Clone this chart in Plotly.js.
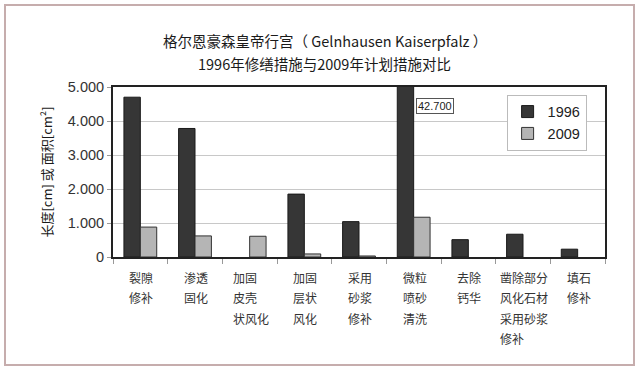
<!DOCTYPE html>
<html>
<head>
<meta charset="utf-8">
<script src="https://cdn.plot.ly/plotly-3.0.1.min.js"></script>
<style>
  html, body { margin: 0; padding: 0; background: #fff; }
  #wrap { position: relative; width: 639px; height: 371px; }
  #chart { width: 639px; height: 371px; }
  #frame { position: absolute; left: 4px; top: 4px; width: 627px; height: 358px;
           border: 2px solid #c6adad; pointer-events: none; }
</style>
</head>
<body>
<div id="wrap">
  <div id="chart"></div>
  <div id="frame"></div>
</div>
<script>
// ---- data ----
const categories = ['裂隙修补', '渗透固化', '加固皮壳状风化', '加固层状风化', '采用砂浆修补',
                    '微粒喷砂清洗', '去除钙华', '凿除部分风化石材采用砂浆修补', '填石修补'];
const tickLabels = [
  ['裂隙', '修补'],
  ['渗透', '固化'],
  ['加固', '皮壳', '状风化'],
  ['加固', '层状', '风化'],
  ['采用', '砂浆', '修补'],
  ['微粒', '喷砂', '清洗'],
  ['去除', '钙华'],
  ['凿除部分', '风化石材', '采用砂浆', '修补'],
  ['填石', '修补']
];
const values1996 = [4700, 3780, 0, 1850, 1040, 42700, 510, 670, 230];
const values2009 = [880, 620, 610, 90, 30, 1170, 0, 0, 0];
const seriesNames = ['1996', '2009'];
const titleLines = ['格尔恩豪森皇帝行宫（ Gelnhausen Kaiserpfalz ）', '1996年修缮措施与2009年计划措施对比'];
const yTitle = '长度[cm] 或 面积[cm²]';
const yMax = 5000;

// ---- chart ----
const cjk = '"Noto Sans CJK SC", "Noto Sans", sans-serif';
const sans = '"Liberation Sans", Arial, sans-serif';
const outlineWidths = vals => vals.map(v => (v > 0 ? 1 : 0));

const traces = [
  { type: 'bar', name: seriesNames[0], x: categories, y: values1996,
    marker: { color: '#363636', line: { color: '#1a1a1a', width: outlineWidths(values1996) } } },
  { type: 'bar', name: seriesNames[1], x: categories, y: values2009,
    marker: { color: '#b5b5b5', line: { color: '#333333', width: outlineWidths(values2009) } } }
];

const annotations = [];
titleLines.forEach((t, i) => {
  annotations.push({ xref: 'paper', yref: 'paper', x: 0.43, y: 1, yanchor: 'middle',
    yshift: 87 - 40 - i * 23, text: t, showarrow: false,
    font: { family: cjk, size: 14.5, color: '#1a1a1a' } });
});
tickLabels.forEach((lines, ci) => {
  const maxLen = Math.max(...lines.map(l => l.length));
  lines.forEach((ln, li) => {
    annotations.push({ xref: 'x', yref: 'paper', x: categories[ci], y: 0,
      xanchor: 'left', xshift: -maxLen * 12 / 2 - 1, yanchor: 'middle',
      yshift: -20 - li * 20.6, text: ln, showarrow: false,
      font: { family: cjk, size: 12, color: '#333' } });
  });
});
// clipped bar value label
const bigIdx = values1996.findIndex(v => v > yMax);
annotations.push({ xref: 'x', yref: 'y', x: categories[bigIdx], y: 4450,
  xanchor: 'left', yanchor: 'middle', xshift: 2,
  text: values1996[bigIdx].toLocaleString('de-DE'), showarrow: false,
  bordercolor: '#555', borderwidth: 1, borderpad: 1, bgcolor: '#fff',
  font: { family: sans, size: 11, color: '#222' } });

const layout = {
  width: 639, height: 371,
  margin: { l: 113, r: 34, t: 87, b: 114 },
  paper_bgcolor: '#ffffff', plot_bgcolor: '#ffffff',
  separators: ',.',
  barmode: 'group', bargap: 0.4, bargroupgap: 0,
  showlegend: true,
  legend: { x: 0.80, y: 0.955, xanchor: 'left', yanchor: 'top',
    bgcolor: '#fff', bordercolor: '#bbbbbb', borderwidth: 1,
    font: { family: sans, size: 14.5, color: '#222' },
    itemwidth: 30, tracegroupgap: 0 },
  xaxis: { type: 'category', showticklabels: false, ticks: 'outside', tickson: 'boundaries',
    ticklen: 5, tickcolor: '#999', showgrid: false, showline: true, linecolor: '#222',
    linewidth: 2, mirror: true, zeroline: false, fixedrange: true },
  yaxis: { range: [0, yMax], dtick: 1000, tickformat: ',.0f', ticks: 'outside', ticklen: 4,
    tickcolor: '#999', showgrid: true, gridcolor: '#c8c8c8', gridwidth: 1,
    showline: true, linecolor: '#222', linewidth: 2, mirror: true, zeroline: false,
    tickfont: { family: sans, size: 14.5, color: '#333' },
    title: { text: yTitle, standoff: 12, font: { family: cjk, size: 13, color: '#1a1a1a' } },
    automargin: false, fixedrange: true },
  annotations: annotations
};

Plotly.newPlot('chart', traces, layout, { staticPlot: true, displayModeBar: false });
</script>
</body>
</html>
